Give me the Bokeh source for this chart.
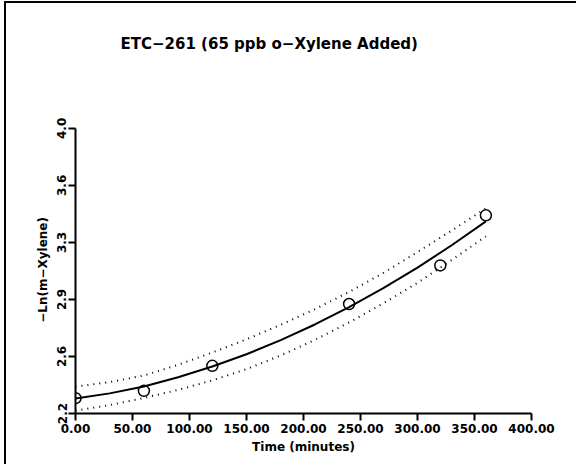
from bokeh.plotting import figure
from bokeh.models import FixedTicker, Range1d, Label
from bokeh.embed import file_html
from bokeh.resources import INLINE

# ---- data ----
time_min = [0, 60, 120, 240, 320, 360]
neg_ln_mxylene = [2.297, 2.343, 2.501, 2.891, 3.135, 3.451]

# fitted curve and its dotted band, read every 30 minutes
fit_time = [0, 30, 60, 90, 120, 150, 180, 210, 240, 270, 300, 330, 360]
fit_value = [2.294, 2.327, 2.370, 2.429, 2.497, 2.574, 2.663, 2.762, 2.871, 2.991, 3.121, 3.262, 3.413]
fit_upper = [2.370, 2.398, 2.440, 2.507, 2.585, 2.668, 2.760, 2.859, 2.967, 3.087, 3.219, 3.355, 3.495]
fit_lower = [2.218, 2.253, 2.298, 2.349, 2.409, 2.480, 2.566, 2.665, 2.775, 2.895, 3.025, 3.169, 3.318]

x_ticks = [0, 50, 100, 150, 200, 250, 300, 350, 400]
x_tick_labels = ["0.00", "50.00", "100.00", "150.00", "200.00", "250.00", "300.00", "350.00", "400.00"]
y_ticks = [2.2, 2.56, 2.92, 3.28, 3.64, 4.0]
y_tick_labels = ["2.2", "2.6", "2.9", "3.3", "3.6", "4.0"]

title_text = "ETC\u2212261 (65 ppb o\u2212Xylene Added)"
x_label = "Time (minutes)"
y_label = "\u2212Ln(m\u2212Xylene)"

FONT = "DejaVu Sans"

# The frame extends above the y axis (axis bounded to 2.2..4.0) so the title
# can sit inside it as a label.
p = figure(width=572, height=463, output_backend="svg", toolbar_location=None,
           x_range=Range1d(0, 400), y_range=Range1d(2.2, 4.725),
           min_border_left=69, min_border_right=47, min_border_top=10, min_border_bottom=53)
p.styles = {"border-left": "2px solid black", "border-top": "2px solid black",
            "margin-left": "4px", "margin-top": "1px"}
p.outline_line_color = None
p.grid.visible = False
p.background_fill_color = "white"
p.border_fill_color = "white"

p.add_layout(Label(x=39.5, y=4.535, text=title_text,
                   text_font=FONT, text_font_size="15px", text_font_style="bold",
                   text_color="black", text_baseline="middle", text_align="left"))

# axes
for ax in (p.xaxis[0], p.yaxis[0]):
    ax.axis_line_width = 2
    ax.axis_line_color = "black"
    ax.major_tick_line_width = 2
    ax.major_tick_line_color = "black"
    ax.major_tick_in = 0
    ax.major_tick_out = 7
    ax.minor_tick_line_color = None
    ax.major_label_text_font = FONT
    ax.major_label_text_font_style = "bold"
    ax.major_label_text_font_size = "12px"
    ax.major_label_text_color = "black"
    ax.axis_label_text_font = FONT
    ax.axis_label_text_font_style = "bold"
    ax.axis_label_text_font_size = "12px"
    ax.axis_label_text_color = "black"

p.xaxis.ticker = FixedTicker(ticks=x_ticks)
p.xaxis.major_label_overrides = {t: l for t, l in zip(x_ticks, x_tick_labels)}
p.xaxis.major_label_standoff = 3
p.xaxis.axis_label = x_label
p.xaxis.axis_label_standoff = 4

p.yaxis.bounds = (y_ticks[0], y_ticks[-1])
p.yaxis.ticker = FixedTicker(ticks=y_ticks)
p.yaxis.major_label_overrides = {t: l for t, l in zip(y_ticks, y_tick_labels)}
p.yaxis.major_label_orientation = "vertical"
p.yaxis.major_label_standoff = 2
# trailing no-break spaces shift the centred label down to the middle of the bounded axis
p.yaxis.axis_label = y_label + "\u00a0" * 27
p.yaxis.axis_label_standoff = 5

# confidence band (dotted) and fit (solid)
p.line(fit_time, fit_upper, line_color="black", line_width=2, line_dash="1 5")
p.line(fit_time, fit_lower, line_color="black", line_width=2, line_dash="1 5")
p.line(fit_time, fit_value, line_color="black", line_width=2)

# observations
p.scatter(time_min, neg_ln_mxylene, marker="circle", size=11,
          fill_color=None, line_color="black", line_width=1.5)

open("out.html", "w").write(file_html(p, INLINE))
